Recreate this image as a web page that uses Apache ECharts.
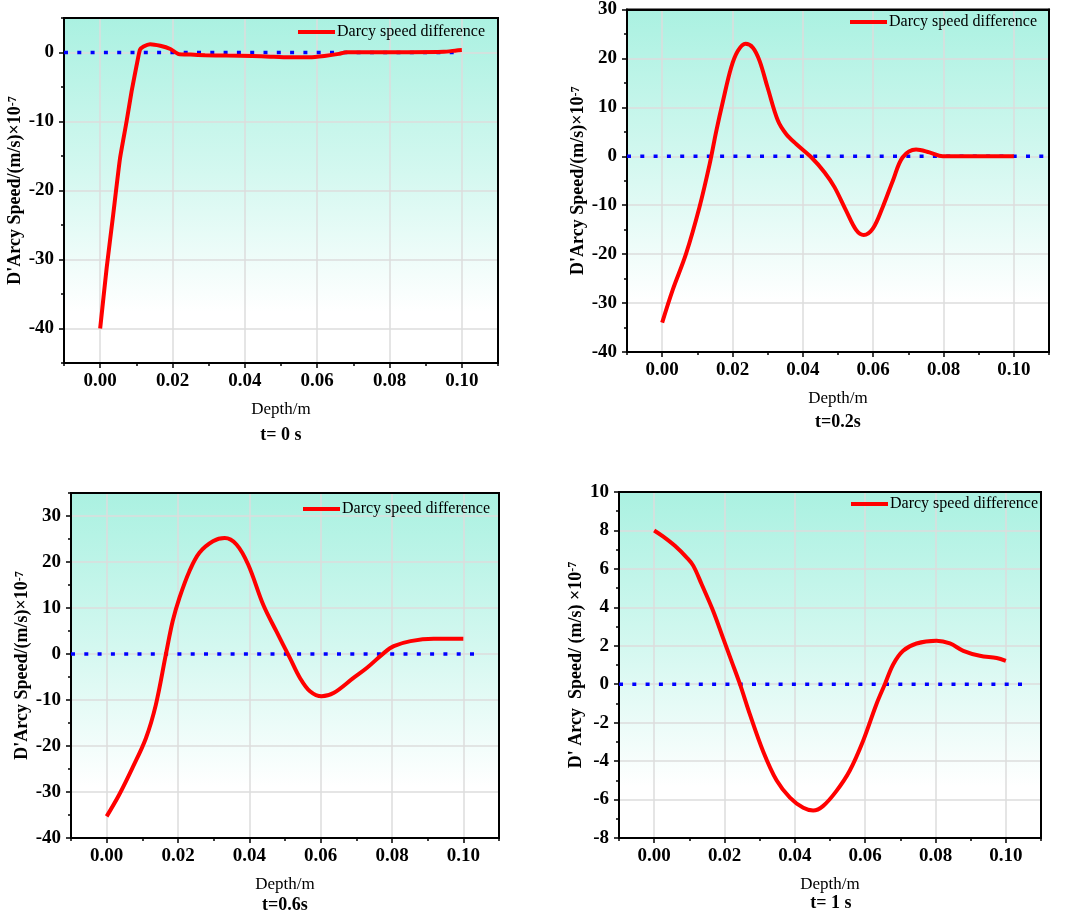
<!DOCTYPE html>
<html>
<head>
<meta charset="utf-8">
<script src="https://cdn.jsdelivr.net/npm/echarts@6/dist/echarts.min.js"></script>
<style>
  html, body { margin: 0; padding: 0; background: #fff; }
  #main { width: 1065px; height: 914px; }
</style>
</head>
<body>
<div id="main"></div>
<script>
// four depth profiles of the Darcy speed difference
var depth0 = [0, 0.0018, 0.0036, 0.0055, 0.0073, 0.0087, 0.0101, 0.011, 0.012, 0.0138, 0.0166, 0.0194, 0.0217, 0.025, 0.029, 0.035, 0.042, 0.047, 0.052, 0.058, 0.062, 0.066, 0.068, 0.075, 0.085, 0.095, 0.0985, 0.1]
var speed0 = [-40, -31.2, -23.5, -15.3, -10, -5.6, -1.8, 0.4, 0.87, 1.2, 0.97, 0.5, -0.23, -0.3, -0.4, -0.45, -0.5, -0.6, -0.7, -0.7, -0.5, -0.2, 0.05, 0.05, 0.05, 0.1, 0.3, 0.35]

var depth1 = [0, 0.003, 0.0068, 0.0106, 0.0135, 0.0154, 0.0173, 0.0196, 0.0215, 0.0237, 0.0258, 0.0277, 0.03, 0.0329, 0.0353, 0.0381, 0.0424, 0.0462, 0.049, 0.0523, 0.0552, 0.0573, 0.0599, 0.0627, 0.0656, 0.0684, 0.0722, 0.076, 0.0798, 0.09, 0.1]
var speed1 = [-34, -27.3, -19.9, -10.4, -1.6, 5.2, 11.3, 18.1, 21.5, 23, 22.2, 19.5, 14, 7.3, 4.5, 2.5, -0.2, -3.3, -6.3, -11.1, -15.1, -16.1, -14.8, -10.4, -5, -0.2, 1.4, 0.8, 0, 0, 0]

var depth2 = [0, 0.0035, 0.0072, 0.011, 0.0138, 0.0166, 0.0185, 0.0204, 0.0232, 0.026, 0.0298, 0.0331, 0.0364, 0.0397, 0.0439, 0.0476, 0.0514, 0.0542, 0.057, 0.0603, 0.0636, 0.0692, 0.073, 0.0777, 0.0805, 0.0852, 0.0917, 0.1]
var speed2 = [-35.3, -30.6, -24.8, -18.3, -11, -0.1, 7.1, 12.2, 18, 22, 24.5, 25.2, 23.8, 19.4, 10.7, 4.9, -0.9, -5.2, -8.1, -9.2, -8.5, -5.2, -3, 0.2, 1.7, 2.8, 3.3, 3.3]

var depth3 = [0, 0.0026, 0.0059, 0.0092, 0.0111, 0.0135, 0.0168, 0.0196, 0.022, 0.0244, 0.0272, 0.031, 0.0348, 0.0386, 0.0424, 0.0452, 0.048, 0.0518, 0.0556, 0.0594, 0.0632, 0.0656, 0.068, 0.0708, 0.0746, 0.0803, 0.0841, 0.0879, 0.0926, 0.0974, 0.1]
var speed3 = [8.0, 7.68, 7.2, 6.6, 6.17, 5.2, 3.8, 2.4, 1.2, 0, -1.56, -3.5, -5.0, -5.9, -6.43, -6.57, -6.34, -5.56, -4.5, -2.95, -1.04, 0, 1.04, 1.74, 2.12, 2.26, 2.12, 1.74, 1.48, 1.36, 1.22]

var timeLabels = ['t= 0 s', 't=0.2s', 't=0.6s', 't= 1 s']
var yNames = ["D'Arcy Speed/(m/s)×10", "D'Arcy Speed/(m/s)×10", "D'Arcy Speed/(m/s)×10", "D' Arcy  Speed/ (m/s) ×10"]
var yMin = [-45, -40, -40, -8]
var yMax = [5, 30, 35, 10]
var yStep = [10, 10, 10, 2]
var yMajor = [[-40, -30, -20, -10, 0], [-40, -30, -20, -10, 0, 10, 20, 30], [-40, -30, -20, -10, 0, 10, 20, 30], [-8, -6, -4, -2, 0, 2, 4, 6, 8, 10]]
var yMinor = [[-45, -35, -25, -15, -5, 5], [-35, -25, -15, -5, 5, 15, 25], [-35, -25, -15, -5, 5, 15, 25, 35], [-7, -5, -3, -1, 1, 3, 5, 7, 9]]
var xMajor = [0, 0.02, 0.04, 0.06, 0.08, 0.10]
var xMinor = [-0.01, 0.01, 0.03, 0.05, 0.07, 0.09, 0.11]
var zeroEnd = [0.10, 0.11, 0.105, 0.107]

var depths = [depth0, depth1, depth2, depth3]
var speeds = [speed0, speed1, speed2, speed3]

// plot boxes in px
var boxes = [
  { left: 64, top: 18, width: 434, height: 345 },
  { left: 627, top: 8, width: 422, height: 344 },
  { left: 71, top: 493, width: 428, height: 345 },
  { left: 619, top: 492, width: 422, height: 346 }
]
var yNameGap = [38, 37, 38, 34]
var legendPos = [[298, 24], [850, 14], [303, 501], [851, 496]]
var titlePos = [[281, 435], [838, 422], [285, 905], [831, 903]]

var serif = 'Liberation Serif'
var chartDom = document.getElementById('main')
var myChart = echarts.init(chartDom)

var grids = [], xAxes = [], yAxes = [], series = [], legends = [], texts = []

function bg () {
  return new echarts.graphic.LinearGradient(0, 0, 0, 1, [
    { offset: 0, color: '#aaf1e1' },
    { offset: 0.45, color: '#d4f8f0' },
    { offset: 0.85, color: '#ffffff' },
    { offset: 1, color: '#ffffff' }
  ])
}

// plain black frame line on the far sides
function frameAxis (i, pos, min, max) {
  return {
    type: 'value', gridIndex: i, min: min, max: max, position: pos,
    axisLine: { show: true, onZero: false, lineStyle: { color: '#000', width: 2 } },
    axisTick: { show: false }, axisLabel: { show: false }, splitLine: { show: false }
  }
}

for (var i = 0; i < 4; i++) {
  var b = boxes[i]
  grids.push({
    left: b.left, top: b.top, width: b.width, height: b.height,
    show: true, backgroundColor: bg(), borderColor: '#000', borderWidth: 2,
    containLabel: false
  })
  // main x axis (index 3i)
  xAxes.push({
    type: 'value', gridIndex: i, min: -0.01, max: 0.11, interval: 0.01,
    name: 'Depth/m', nameLocation: 'middle', nameGap: 38,
    nameTextStyle: { fontFamily: serif, fontSize: 17, color: '#000' },
    axisLine: { onZero: false, lineStyle: { color: '#000', width: 2 } },
    axisTick: { customValues: xMajor, length: 5, lineStyle: { color: '#000', width: 1.5 } },
    axisLabel: {
      customValues: xMajor, margin: 9, color: '#000', fontFamily: serif, fontSize: 19, fontWeight: 'bold',
      formatter: function (v) { return v.toFixed(2) }
    },
    splitLine: { show: true, lineStyle: { color: '#dcdcdc', width: 1.5 } }
  })
  // minor ticks on x
  xAxes.push({
    type: 'value', gridIndex: i, min: -0.01, max: 0.11, interval: 0.01, position: 'bottom',
    axisLine: { show: false, onZero: false },
    axisTick: { customValues: xMinor, length: 3, lineStyle: { color: '#000', width: 1.5 } },
    axisLabel: { show: false },
    splitLine: { show: false }
  })
  xAxes.push(frameAxis(i, 'top', -0.01, 0.11))

  yAxes.push({
    type: 'value', gridIndex: i, min: yMin[i], max: yMax[i], interval: yStep[i] / 2,
    name: yNames[i] + '{sup|-7}', nameLocation: 'middle', nameRotate: 90, nameGap: yNameGap[i],
    nameTextStyle: {
      fontFamily: serif, fontSize: 18, fontWeight: 'bold', color: '#000',
      rich: { sup: { fontFamily: serif, fontSize: 12, fontWeight: 'bold', color: '#000', verticalAlign: 'top' } }
    },
    axisLine: { onZero: false, lineStyle: { color: '#000', width: 2 } },
    axisTick: { customValues: yMajor[i], length: 5, lineStyle: { color: '#000', width: 1.5 } },
    axisLabel: { customValues: yMajor[i], margin: 10, color: '#000', fontFamily: serif, fontSize: 19, fontWeight: 'bold' },
    splitLine: { show: true, lineStyle: { color: '#dcdcdc', width: 1.5 } }
  })
  yAxes.push({
    type: 'value', gridIndex: i, min: yMin[i], max: yMax[i], interval: yStep[i] / 2, position: 'left',
    axisLine: { show: false, onZero: false },
    axisTick: { customValues: yMinor[i], length: 3, lineStyle: { color: '#000', width: 1.5 } },
    axisLabel: { show: false },
    splitLine: { show: false }
  })
  yAxes.push(frameAxis(i, 'right', yMin[i], yMax[i]))

  var pts = depths[i].map(function (d, k) { return [d, speeds[i][k]] })
  series.push({
    name: 'zero', type: 'line', xAxisIndex: 3 * i, yAxisIndex: 3 * i,
    data: [[-0.01, 0], [zeroEnd[i], 0]], symbol: 'none', silent: true,
    lineStyle: { color: '#0000ff', width: 3.5, type: [4, 9.3] }, z: 2
  })
  series.push({
    name: 'Darcy speed difference', type: 'line', xAxisIndex: 3 * i, yAxisIndex: 3 * i,
    data: pts, symbol: 'none', smooth: i === 0 ? 0.15 : 0.35,
    lineStyle: { color: '#ff0000', width: 4 }, itemStyle: { color: '#ff0000' }, z: 3
  })
  legends.push({
    data: ['Darcy speed difference'], left: legendPos[i][0], top: legendPos[i][1],
    padding: 0, icon: 'rect', itemWidth: 37, itemHeight: 4,
    selectedMode: false,
    textStyle: { fontFamily: serif, fontSize: 16, color: '#000', padding: [0, 0, 0, -3] }
  })
  texts.push({
    type: 'text', x: titlePos[i][0], y: titlePos[i][1],
    style: {
      text: timeLabels[i], fontFamily: serif, fontSize: 18, fontWeight: 'bold', fill: '#000',
      align: 'center', verticalAlign: 'middle'
    }
  })
}

var option = {
  animation: false,
  grid: grids,
  xAxis: xAxes,
  yAxis: yAxes,
  legend: legends,
  graphic: texts,
  series: series
}
option && myChart.setOption(option)
</script>
</body>
</html>
